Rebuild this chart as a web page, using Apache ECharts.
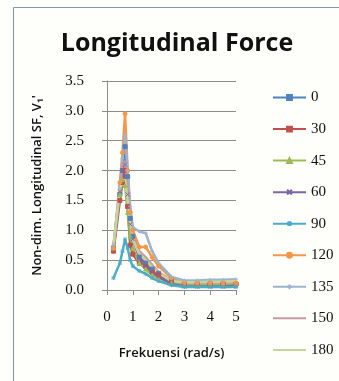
<!DOCTYPE html>
<html><head><meta charset="utf-8">
<script src="https://cdn.jsdelivr.net/npm/echarts@6/dist/echarts.min.js"></script>
<style>html,body{margin:0;padding:0;background:#fefefb}#c{width:339px;height:381px}</style>
</head><body><div id="c"></div>
<script>
const freq = [0.25, 0.5, 0.6, 0.7, 0.8, 0.9, 1.0, 1.25, 1.5, 1.75, 2.0, 2.5, 3.0, 3.5, 4.0, 4.5, 5.0];
const seriesNames = ['0', '30', '45', '60', '90', '120', '135', '150', '180'];
const v0   = [0.70, 1.60, 2.00, 2.40, 1.90, 1.20, 0.90, 0.55, 0.45, 0.35, 0.28, 0.15, 0.10, 0.10, 0.10, 0.10, 0.10];
const v30  = [0.65, 1.50, 1.80, 2.00, 1.40, 0.75, 0.60, 0.45, 0.40, 0.30, 0.25, 0.13, 0.10, 0.10, 0.10, 0.10, 0.10];
const v45  = [0.70, 1.60, 1.85, 1.75, 1.30, 0.90, 0.70, 0.45, 0.35, 0.25, 0.20, 0.12, 0.10, 0.10, 0.10, 0.10, 0.10];
const v60  = [0.68, 1.65, 2.00, 2.10, 1.60, 1.10, 0.85, 0.55, 0.40, 0.30, 0.22, 0.10, 0.06, 0.06, 0.06, 0.06, 0.07];
const v90  = [0.20, 0.45, 0.65, 0.85, 0.70, 0.50, 0.40, 0.32, 0.27, 0.20, 0.15, 0.08, 0.05, 0.05, 0.05, 0.05, 0.05];
const v120 = [0.70, 1.80, 2.30, 2.95, 2.00, 1.30, 1.00, 0.72, 0.72, 0.55, 0.40, 0.20, 0.13, 0.12, 0.12, 0.12, 0.12];
const v135 = [0.75, 1.70, 2.20, 2.60, 2.00, 1.40, 1.05, 0.98, 0.95, 0.65, 0.45, 0.22, 0.16, 0.16, 0.17, 0.17, 0.18];
const v150 = [0.70, 1.75, 2.10, 2.15, 1.70, 1.20, 0.90, 0.65, 0.55, 0.42, 0.30, 0.16, 0.12, 0.12, 0.12, 0.13, 0.13];
const v180 = [0.75, 1.70, 1.80, 1.85, 1.50, 1.10, 0.85, 0.60, 0.50, 0.38, 0.28, 0.15, 0.13, 0.13, 0.14, 0.14, 0.15];
const yTicks = [0, 0.5, 1, 1.5, 2, 2.5, 3, 3.5];
const xTicks = [0, 1, 2, 3, 4, 5];

const values = [v0, v30, v45, v60, v90, v120, v135, v150, v180];
const colors = ['#4F81BD', '#C0504D', '#9BBB59', '#8064A2', '#4BACC6', '#F79646', '#9DB3CE', '#C49BA0', '#C3D69B'];
const symbols = ['rect', 'rect', 'triangle', 'path://M0,0L10,10M10,0L0,10', 'path://M5,0L5,10M0,5L10,5M1,1L9,9M9,1L1,9', 'circle', 'path://M5,0L5,10M0,5L10,5', 'none', 'none'];

const chart = echarts.init(document.getElementById('c'), null, {renderer: 'canvas'});
chart.setOption({
  backgroundColor: '#fefefb',
  animation: false,
  title: {
    text: 'Longitudinal Force', left: 172, textAlign: 'center', top: 26,
    textStyle: {fontFamily: 'Open Sans', fontWeight: 'bold', fontSize: 25, color: '#111'}
  },
  graphic: [{
    type: 'rect', shape: {x: 13.5, y: 7.5, width: 340, height: 390},
    style: {fill: 'none', stroke: '#8197b2', lineWidth: 1}, silent: true
  }],
  grid: {left: 107, right: 103, top: 81, bottom: 91},
  legend: {
    orient: 'vertical', left: 267, top: 85,
    itemWidth: 33, itemHeight: 6, itemGap: 16.55,
    textStyle: {fontFamily: 'Liberation Serif', fontSize: 15, lineHeight: 14, color: '#111'},
    data: seriesNames
  },
  xAxis: {
    type: 'value', min: 0, max: 5, interval: 1,
    name: 'Frekuensi (rad/s)', nameLocation: 'middle', nameGap: 57,
    nameTextStyle: {fontFamily: 'Open Sans', fontSize: 13, fontWeight: 600, color: '#111'},
    axisLine: {show: true, lineStyle: {color: '#8c8c8c'}},
    axisTick: {show: true, length: 5, lineStyle: {color: '#8c8c8c'}},
    axisLabel: {fontFamily: 'Liberation Serif', fontSize: 15, color: '#111', margin: 20,
      formatter: v => xTicks.includes(v) ? String(v) : ''},
    splitLine: {show: false}
  },
  yAxis: {
    type: 'value', min: 0, max: 3.5, interval: 0.5,
    name: "Non-dim. Longitudinal SF, V\u2081'", nameLocation: 'middle', nameGap: 63,
    nameTextStyle: {fontFamily: 'Open Sans', fontSize: 13, fontWeight: 600, color: '#111'},
    axisLine: {show: true, lineStyle: {color: '#8c8c8c'}},
    axisTick: {show: true, length: 5, lineStyle: {color: '#8c8c8c'}},
    axisLabel: {fontFamily: 'Liberation Serif', fontSize: 15, color: '#111', margin: 23,
      formatter: v => yTicks.includes(v) ? v.toFixed(1) : ''},
    splitLine: {show: true, lineStyle: {color: '#8c8c8c'}}
  },
  series: seriesNames.map((n, i) => {
    const noMark = symbols[i] === 'none';
    return {
      name: n, type: 'line',
      data: freq.map((f, k) => [f, values[i][k]]),
      color: colors[i],
      symbol: noMark ? 'circle' : symbols[i], symbolSize: 4, showSymbol: !noMark,
      lineStyle: {width: 2.5, color: colors[i]},
      itemStyle: {color: colors[i], borderColor: colors[i], borderWidth: 1, opacity: noMark ? 0 : 1}
    };
  })
});
</script></body></html>
